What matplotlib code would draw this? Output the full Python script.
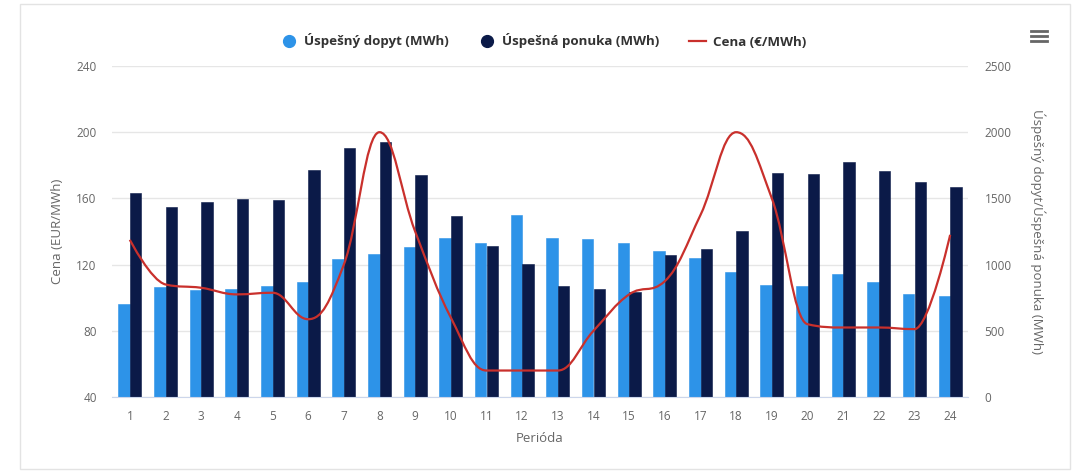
import numpy as np
import matplotlib
matplotlib.use("Agg")
import matplotlib.pyplot as plt
from matplotlib.path import Path
from matplotlib.patches import PathPatch, Rectangle
from matplotlib.lines import Line2D

plt.rcParams['font.family'] = ['Open Sans', 'DejaVu Sans']

# Hourly market results
periods = list(range(1, 25))
demand_mwh = [700, 829, 808, 813, 838, 869, 1040, 1080, 1130, 1198, 1166, 1375,
              1198, 1191, 1161, 1105, 1047, 947, 846, 838, 929, 866, 778, 763]
supply_mwh = [1538, 1433, 1475, 1493, 1488, 1714, 1878, 1928, 1677, 1370, 1140, 1002,
              838, 813, 791, 1073, 1115, 1256, 1689, 1684, 1772, 1707, 1621, 1588]
price_eur = [135, 108, 106, 102, 103, 87, 120, 200, 140, 88, 56, 56,
             56, 80, 102, 110, 150, 200, 160, 84, 82, 82, 81, 138]

left_ticks = [40, 80, 120, 160, 200, 240]
right_ticks = [0, 500, 1000, 1500, 2000, 2500]

c_demand = '#2d93e8'
c_supply = '#0b1a48'
c_price = '#c9302c'
c_text = '#666666'
c_grid = '#e6e6e6'


def spline_path(xs, ys, smoothing=1.5):
    """Cubic Bezier path through every point, with flattened extremes."""
    n = len(xs)
    denom = smoothing + 1
    left_c = [None] * n
    right_c = [None] * n
    for i in range(1, n - 1):
        px, py = xs[i], ys[i]
        lx, ly = xs[i - 1], ys[i - 1]
        nx, ny = xs[i + 1], ys[i + 1]
        lcx = (smoothing * px + lx) / denom
        lcy = (smoothing * py + ly) / denom
        rcx = (smoothing * px + nx) / denom
        rcy = (smoothing * py + ny) / denom
        corr = (rcy - lcy) * (rcx - px) / (rcx - lcx) + py - rcy
        lcy += corr
        rcy += corr
        if lcy > ly and lcy > py:
            lcy = max(ly, py)
            rcy = 2 * py - lcy
        elif lcy < ly and lcy < py:
            lcy = min(ly, py)
            rcy = 2 * py - lcy
        if rcy > ny and rcy > py:
            rcy = max(ny, py)
            lcy = 2 * py - rcy
        elif rcy < ny and rcy < py:
            rcy = min(ny, py)
            lcy = 2 * py - rcy
        left_c[i] = (lcx, lcy)
        right_c[i] = (rcx, rcy)
    verts = [(xs[0], ys[0])]
    codes = [Path.MOVETO]
    for i in range(1, n):
        c1 = right_c[i - 1] if right_c[i - 1] is not None else (xs[i - 1], ys[i - 1])
        c2 = left_c[i] if left_c[i] is not None else (xs[i], ys[i])
        verts += [c1, c2, (xs[i], ys[i])]
        codes += [Path.CURVE4] * 3
    return Path(verts, codes)


fig = plt.figure(figsize=(10.74, 4.73), dpi=100)
fig.patch.set_facecolor('white')

# card outline
fig.patches.append(Rectangle((20 / 1074, 4 / 473), 1050 / 1074, 465 / 473,
                             transform=fig.transFigure, fill=False,
                             edgecolor='#e3e3e3', linewidth=1.0))

ax = fig.add_axes([112 / 1074, 1 - 397 / 473, 856 / 1074, 331 / 473])
x = np.arange(len(periods))
bw = 0.32
ax.bar(x - bw / 2, demand_mwh, width=bw, color=c_demand, edgecolor=c_demand,
       linewidth=0.4, zorder=2)
ax.bar(x + bw / 2, supply_mwh, width=bw, color=c_supply, edgecolor=c_supply,
       linewidth=0.4, zorder=2)
ax.set_xlim(-0.5, len(periods) - 0.5)
ax.set_ylim(right_ticks[0], right_ticks[-1])
ax.grid(axis='y', color=c_grid, linewidth=1, zorder=0)
ax.set_axisbelow(True)
ax.set_xticks(x)
ax.set_xticklabels([str(p) for p in periods])
ax.set_xlabel('Perióda', color=c_text, fontsize=9.5, labelpad=7)
ax.tick_params(axis='x', colors=c_text, labelsize=8.5, length=0, pad=9)
for s in ['top', 'left', 'right']:
    ax.spines[s].set_visible(False)
ax.spines['bottom'].set_color('#ccd6eb')

axp = ax.twinx()
axp.set_xlim(ax.get_xlim())
axp.set_ylim(left_ticks[0], left_ticks[-1])

# MWh scale on the right, price scale on the left
ax.set_yticks(right_ticks)
ax.yaxis.tick_right()
ax.yaxis.set_label_position('right')
ax.set_ylabel('Úspešný dopyt/Úspešná ponuka (MWh)', color=c_text, fontsize=9.5,
              rotation=270, va='bottom', labelpad=13)
ax.tick_params(axis='y', colors=c_text, labelsize=8.5, length=0, pad=12,
               left=False, labelleft=False, right=True, labelright=True)

axp.set_yticks(left_ticks)
axp.yaxis.tick_left()
axp.yaxis.set_label_position('left')
axp.set_ylabel('Cena (EUR/MWh)', color=c_text, fontsize=9.5, labelpad=9)
axp.tick_params(axis='y', colors=c_text, labelsize=8.5, length=0, pad=11,
                right=False, labelright=False)
for s in axp.spines.values():
    s.set_visible(False)
axp.add_patch(PathPatch(spline_path(list(x), price_eur), facecolor='none',
                        edgecolor=c_price, linewidth=1.6, zorder=3))

# legend
handles = [
    Line2D([], [], linestyle='none', marker='o', markersize=8.5, color=c_demand),
    Line2D([], [], linestyle='none', marker='o', markersize=8.5, color=c_supply),
    Line2D([], [], color=c_price, linewidth=1.6),
]
labels = ['Úspešný dopyt (MWh)', 'Úspešná ponuka (MWh)', 'Cena (€/MWh)']
fig.legend(handles, labels, loc='center', bbox_to_anchor=(543 / 1074, 1 - 41 / 473),
           ncol=3, frameon=False, handlelength=1.3, handletextpad=0.5,
           columnspacing=2.2, prop={'weight': 'bold', 'size': 9.6},
           labelcolor='#333333')

# menu icon
for yy in (31, 36, 41):
    fig.add_artist(Line2D([1031 / 1074, 1047 / 1074], [1 - yy / 473] * 2,
                          color='#666666', linewidth=2, transform=fig.transFigure))

fig.savefig('out.png', dpi=100)
